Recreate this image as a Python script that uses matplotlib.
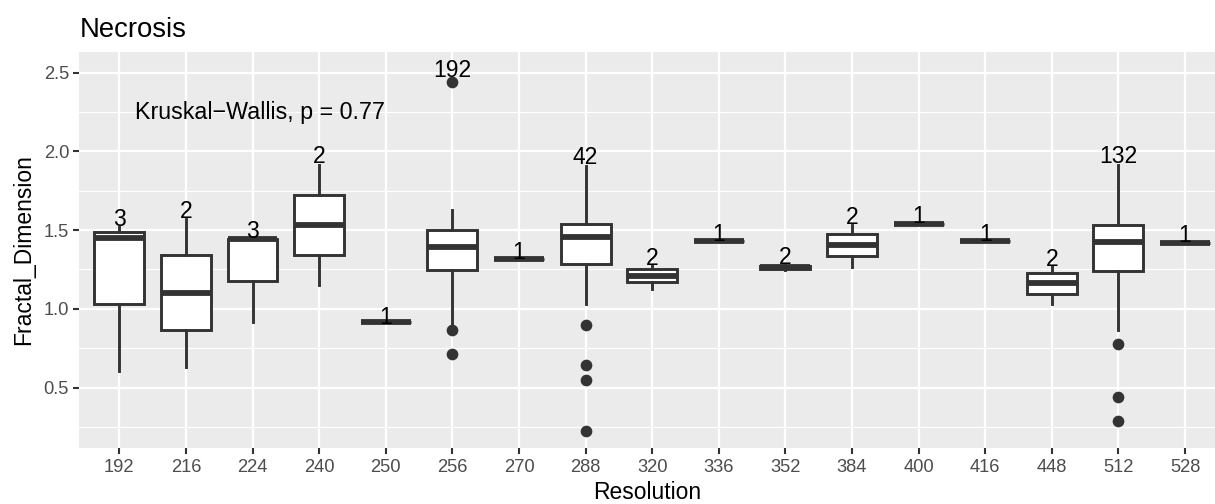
import matplotlib
matplotlib.use("Agg")
import matplotlib.pyplot as plt
import numpy as np

plt.rcParams['font.family'] = ['Liberation Sans', 'DejaVu Sans']

# Dados (estatísticas de cada boxplot)
resolutions = ["192", "216", "224", "240", "250", "256", "270", "288", "320",
               "336", "352", "384", "400", "416", "448", "512", "528"]
counts = [3, 2, 3, 2, 1, 192, 1, 42, 2, 1, 2, 2, 1, 1, 2, 132, 1]
whislo = [0.604, 0.629, 0.916, 1.153, 0.916, 0.905, 1.317, 1.032, 1.128,
          1.429, 1.245, 1.266, 1.541, 1.431, 1.032, 0.867, 1.420]
q1 = [1.028, 0.867, 1.179, 1.342, 0.916, 1.249, 1.317, 1.287, 1.168,
      1.429, 1.255, 1.334, 1.541, 1.431, 1.094, 1.238, 1.420]
med = [1.452, 1.102, 1.442, 1.535, 0.916, 1.391, 1.317, 1.457, 1.211,
       1.429, 1.265, 1.406, 1.541, 1.431, 1.164, 1.423, 1.420]
q3 = [1.488, 1.340, 1.446, 1.722, 0.916, 1.499, 1.317, 1.539, 1.253,
      1.429, 1.275, 1.473, 1.541, 1.431, 1.227, 1.531, 1.420]
whishi = [1.520, 1.569, 1.450, 1.913, 0.916, 1.626, 1.317, 1.906, 1.280,
          1.429, 1.285, 1.531, 1.541, 1.431, 1.272, 1.913, 1.420]
outliers = [[], [], [], [], [], [2.443, 0.867, 0.714], [], [0.899, 0.644, 0.545, 0.226],
            [], [], [], [], [], [], [], [0.778, 0.439, 0.286], []]

dark = "#333333"

fig = plt.figure(figsize=(8.1, 3.36), dpi=150)
ax = fig.add_axes([0.0653, 0.1105, 1.0 - 0.0653, 0.8974 - 0.1105])
ax.set_facecolor("#EBEBEB")

positions = np.arange(1, len(resolutions) + 1)
stats = []
for i in range(len(resolutions)):
    stats.append({"whislo": whislo[i], "q1": q1[i], "med": med[i], "q3": q3[i],
                  "whishi": whishi[i], "fliers": outliers[i], "label": resolutions[i]})

ax.bxp(stats, positions=positions, widths=0.75, patch_artist=True, showcaps=False,
       boxprops=dict(facecolor="white", edgecolor=dark, linewidth=1.4),
       medianprops=dict(color=dark, linewidth=2.8, solid_capstyle="butt"),
       whiskerprops=dict(color=dark, linewidth=1.4),
       flierprops=dict(marker="o", markerfacecolor=dark, markeredgecolor=dark,
                       markersize=4.6, linestyle="none"),
       zorder=3)

# Rótulos com o número de amostras
for i, pos in enumerate(positions):
    top = max([whishi[i]] + outliers[i])
    ax.text(pos, top * 1.03, str(counts[i]), ha="center", va="center",
            fontsize=11, color="black", zorder=4)

ax.text(1.24, 2.25, "Kruskal\u2212Wallis, p = 0.77", ha="left", va="center",
        fontsize=11.2, color="black")

# Eixos e grade no estilo ggplot
ax.set_xlim(0.4, 17.45)
ax.set_ylim(0.114, 2.633)
ax.set_xticks(positions)
ax.set_xticklabels(resolutions)
ax.set_yticks([0.5, 1.0, 1.5, 2.0, 2.5])
ax.set_yticks([0.25, 0.75, 1.25, 1.75, 2.25], minor=True)
ax.grid(True, which="major", color="white", linewidth=1.1, zorder=0)
ax.grid(True, which="minor", axis="y", color="white", linewidth=0.55, zorder=0)
ax.set_axisbelow(True)
ax.tick_params(which="major", length=2.75, width=1.0, color=dark,
               labelsize=8.8, labelcolor="#4D4D4D", pad=2.2)
ax.tick_params(which="minor", length=0)
for s in ax.spines.values():
    s.set_visible(False)

ax.set_xlabel("Resolution", fontsize=11, labelpad=2.5)
ax.set_ylabel("Fractal_Dimension", fontsize=11, labelpad=4)
ax.set_title("Necrosis", loc="left", fontsize=13.2, pad=7)

fig.savefig("out.png", dpi=150)
plt.close(fig)
